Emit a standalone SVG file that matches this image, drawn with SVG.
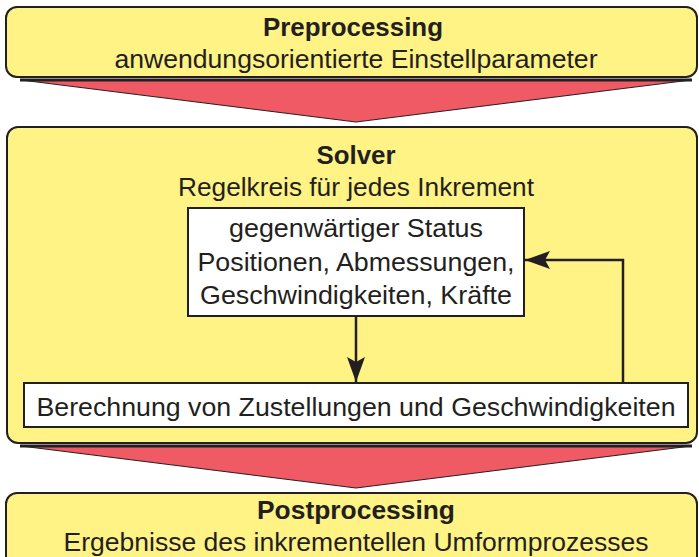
<svg xmlns="http://www.w3.org/2000/svg" width="699" height="557" viewBox="0 0 699 557">
<style>
.stage{fill:#fff385;stroke:#231f20;stroke-width:2}
.box{fill:#ffffff;stroke:#231f20;stroke-width:2}
.flow{fill:#ef5a64;stroke:#231f20;stroke-width:1}
.bar{stroke:#231f20;stroke-width:3}
.t{font-family:"Liberation Sans",Arial,sans-serif;font-size:26px;fill:#231f20;text-anchor:middle}
.b{font-weight:bold;font-size:26px}
.conn{fill:none;stroke:#231f20;stroke-width:2.5}
</style>
<defs>
<marker id="ah" markerUnits="userSpaceOnUse" markerWidth="26" markerHeight="22" viewBox="0 0 26 22" refX="25" refY="11" orient="auto">
<path d="M0,2 L25,11 L0,20 L5,11 Z" fill="#231f20"/>
</marker>
</defs>
<rect width="699" height="557" fill="#ffffff"/>
<g id="flow-arrows">
<polygon class="flow" points="21,80 691,80 356,122"/>
<line class="bar" x1="20" y1="80" x2="692" y2="80"/>
<polygon class="flow" points="21,446 691,446 356,488"/>
<line class="bar" x1="20" y1="446" x2="692" y2="446"/>
</g>
<g id="preprocessing">
<rect class="stage" x="6" y="7" width="691" height="70" rx="11"/>
<text class="t b" x="353" y="36" textLength="180" lengthAdjust="spacingAndGlyphs">Preprocessing</text>
<text class="t" x="356" y="68" textLength="483" lengthAdjust="spacingAndGlyphs">anwendungsorientierte Einstellparameter</text>
</g>
<g id="solver">
<rect class="stage" x="7" y="127" width="690" height="316" rx="11"/>
<text class="t b" x="356" y="164" textLength="79" lengthAdjust="spacingAndGlyphs">Solver</text>
<text class="t" x="356" y="196" textLength="356" lengthAdjust="spacingAndGlyphs">Regelkreis für jedes Inkrement</text>
</g>
<g id="status">
<rect class="box" x="188" y="208" width="336" height="108"/>
<text class="t" x="356" y="237" textLength="254" lengthAdjust="spacingAndGlyphs">gegenwärtiger Status</text>
<text class="t" x="356" y="271" textLength="317" lengthAdjust="spacingAndGlyphs">Positionen, Abmessungen,</text>
<text class="t" x="356" y="304" textLength="312" lengthAdjust="spacingAndGlyphs">Geschwindigkeiten, Kräfte</text>
</g>
<g id="berechnung">
<rect class="box" x="24" y="383" width="664" height="44"/>
<text class="t" x="356" y="416" textLength="639" lengthAdjust="spacingAndGlyphs">Berechnung von Zustellungen und Geschwindigkeiten</text>
</g>
<g id="postprocessing">
<rect class="stage" x="6" y="493" width="691" height="90" rx="11"/>
<text class="t b" x="356" y="519" textLength="198" lengthAdjust="spacingAndGlyphs">Postprocessing</text>
<text class="t" x="356" y="551" textLength="585" lengthAdjust="spacingAndGlyphs">Ergebnisse des inkrementellen Umformprozesses</text>
</g>
<g id="connectors">
<path class="conn" d="M356,316 V382" marker-end="url(#ah)"/>
<path class="conn" d="M623,383 V260 H525" marker-end="url(#ah)"/>
</g>
</svg>
